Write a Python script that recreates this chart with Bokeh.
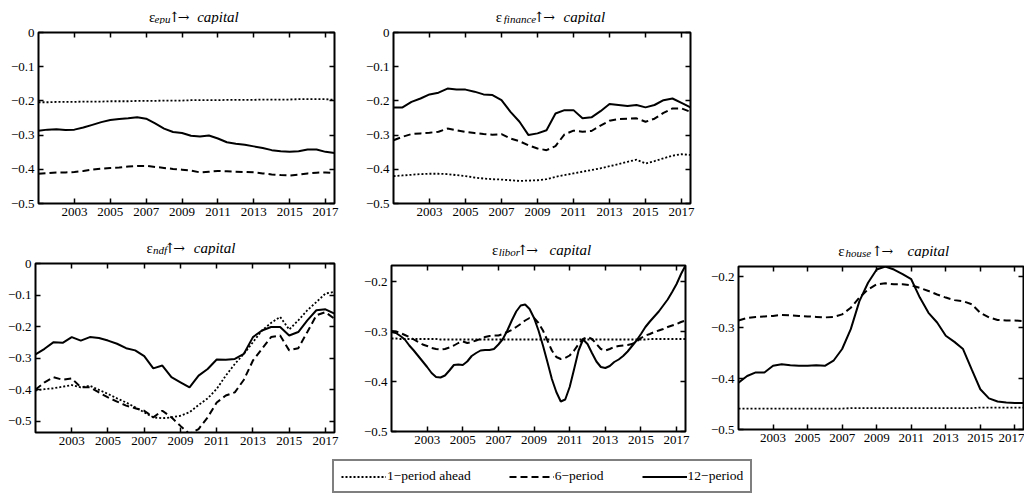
from bokeh.plotting import figure
from bokeh.layouts import row, column
from bokeh.models import (Range1d, FixedTicker, LinearAxis, Label, Legend,
                          LegendItem, CustomJSTickFormatter)
from bokeh.embed import file_html
from bokeh.resources import INLINE

FONT = "Liberation Serif"
ARROW_FONT = "DejaVu Serif"

# ---------------- data ----------------
years_h = [2001.0, 2001.5, 2002.0, 2002.5, 2003.0, 2003.5, 2004.0, 2004.5,
           2005.0, 2005.5, 2006.0, 2006.5, 2007.0, 2007.5, 2008.0, 2008.5,
           2009.0, 2009.5, 2010.0, 2010.5, 2011.0, 2011.5, 2012.0, 2012.5,
           2013.0, 2013.5, 2014.0, 2014.5, 2015.0, 2015.5, 2016.0, 2016.5,
           2017.0, 2017.5]

years_q = [2001.0, 2001.25, 2001.5, 2001.75, 2002.0, 2002.25, 2002.5, 2002.75,
           2003.0, 2003.25, 2003.5, 2003.75, 2004.0, 2004.25, 2004.5, 2004.75,
           2005.0, 2005.25, 2005.5, 2005.75, 2006.0, 2006.25, 2006.5, 2006.75,
           2007.0, 2007.25, 2007.5, 2007.75, 2008.0, 2008.25, 2008.5, 2008.75,
           2009.0, 2009.25, 2009.5, 2009.75, 2010.0, 2010.25, 2010.5, 2010.75,
           2011.0, 2011.25, 2011.5, 2011.75, 2012.0, 2012.25, 2012.5, 2012.75,
           2013.0, 2013.25, 2013.5, 2013.75, 2014.0, 2014.25, 2014.5, 2014.75,
           2015.0, 2015.25, 2015.5, 2015.75, 2016.0, 2016.25, 2016.5, 2016.75,
           2017.0, 2017.25, 2017.5]

x_ticks = [2003, 2005, 2007, 2009, 2011, 2013, 2015, 2017]
y_ticks_full = [0, -0.1, -0.2, -0.3, -0.4, -0.5]
y_ticks_short = [-0.2, -0.3, -0.4, -0.5]

legend_labels = ["1\u2212period ahead", "6\u2212period", "12\u2212period"]

# epu shock
epu_1 = [-0.204, -0.204, -0.203, -0.203, -0.203, -0.202, -0.202, -0.202,
         -0.201, -0.201, -0.201, -0.200, -0.200, -0.200, -0.199, -0.199,
         -0.199, -0.198, -0.198, -0.198, -0.198, -0.197, -0.197, -0.197,
         -0.197, -0.196, -0.196, -0.196, -0.196, -0.195, -0.195, -0.195,
         -0.195, -0.197]
epu_6 = [-0.413, -0.411, -0.409, -0.409, -0.408, -0.405, -0.401, -0.398,
         -0.396, -0.395, -0.392, -0.390, -0.390, -0.393, -0.396, -0.399,
         -0.401, -0.404, -0.409, -0.407, -0.405, -0.406, -0.407, -0.408,
         -0.409, -0.412, -0.415, -0.417, -0.418, -0.416, -0.412, -0.410,
         -0.409, -0.411]
epu_12 = [-0.287, -0.284, -0.283, -0.285, -0.284, -0.278, -0.270, -0.262,
          -0.256, -0.253, -0.251, -0.248, -0.252, -0.266, -0.281, -0.291,
          -0.294, -0.302, -0.304, -0.301, -0.310, -0.321, -0.325, -0.328,
          -0.333, -0.338, -0.344, -0.347, -0.349, -0.347, -0.342, -0.342,
          -0.349, -0.352]

# finance shock
fin_1 = [-0.420, -0.418, -0.416, -0.414, -0.413, -0.413, -0.414, -0.417,
         -0.420, -0.424, -0.427, -0.429, -0.430, -0.432, -0.434, -0.433,
         -0.432, -0.429, -0.422, -0.417, -0.412, -0.407, -0.402, -0.397,
         -0.391, -0.385, -0.378, -0.372, -0.383, -0.376, -0.368, -0.360,
         -0.356, -0.358]
fin_6 = [-0.315, -0.305, -0.297, -0.295, -0.293, -0.290, -0.281, -0.286,
         -0.291, -0.294, -0.297, -0.299, -0.297, -0.310, -0.318, -0.330,
         -0.339, -0.344, -0.332, -0.298, -0.287, -0.290, -0.288, -0.272,
         -0.258, -0.253, -0.252, -0.251, -0.261, -0.252, -0.235, -0.222,
         -0.222, -0.232]
fin_12 = [-0.219, -0.219, -0.203, -0.193, -0.181, -0.176, -0.164, -0.167,
          -0.167, -0.173, -0.181, -0.183, -0.198, -0.232, -0.261, -0.300,
          -0.295, -0.286, -0.237, -0.227, -0.227, -0.251, -0.248, -0.230,
          -0.209, -0.212, -0.215, -0.212, -0.219, -0.212, -0.198, -0.193,
          -0.206, -0.219]

# ndf shock
ndf_1 = [-0.402, -0.398, -0.395, -0.390, -0.385, -0.392, -0.387, -0.400,
         -0.413, -0.427, -0.440, -0.455, -0.471, -0.487, -0.490, -0.487,
         -0.482, -0.471, -0.448, -0.427, -0.397, -0.355, -0.318, -0.286,
         -0.249, -0.212, -0.188, -0.169, -0.209, -0.180, -0.148, -0.122,
         -0.095, -0.090]
ndf_6 = [-0.399, -0.376, -0.360, -0.368, -0.364, -0.392, -0.392, -0.408,
         -0.424, -0.437, -0.450, -0.458, -0.466, -0.487, -0.466, -0.487,
         -0.514, -0.540, -0.524, -0.487, -0.440, -0.418, -0.408, -0.368,
         -0.307, -0.270, -0.233, -0.228, -0.275, -0.268, -0.217, -0.164,
         -0.154, -0.175]
ndf_12 = [-0.288, -0.270, -0.249, -0.251, -0.233, -0.244, -0.233, -0.236,
          -0.244, -0.254, -0.268, -0.275, -0.293, -0.332, -0.323, -0.360,
          -0.376, -0.392, -0.355, -0.334, -0.304, -0.305, -0.302, -0.286,
          -0.233, -0.212, -0.201, -0.201, -0.228, -0.217, -0.180, -0.148,
          -0.145, -0.159]

# libor shock (quarterly)
lib_1 = [-0.314, -0.314, -0.315, -0.315, -0.315, -0.315, -0.315, -0.315,
         -0.315, -0.315, -0.315, -0.316, -0.316, -0.316, -0.316, -0.316,
         -0.316, -0.316, -0.316, -0.316, -0.316, -0.316, -0.316, -0.316,
         -0.316, -0.316, -0.316, -0.316, -0.316, -0.316, -0.316, -0.316,
         -0.316, -0.316, -0.316, -0.316, -0.316, -0.316, -0.316, -0.316,
         -0.316, -0.316, -0.316, -0.316, -0.316, -0.316, -0.316, -0.316,
         -0.316, -0.316, -0.316, -0.316, -0.316, -0.316, -0.316, -0.316,
         -0.316, -0.316, -0.315, -0.315, -0.315, -0.315, -0.315, -0.315,
         -0.315, -0.315, -0.315]
lib_6 = [-0.299, -0.300, -0.303, -0.307, -0.311, -0.316, -0.321, -0.326,
         -0.329, -0.333, -0.335, -0.336, -0.335, -0.332, -0.328, -0.323,
         -0.320, -0.323, -0.321, -0.318, -0.315, -0.311, -0.309, -0.308,
         -0.308, -0.305, -0.301, -0.297, -0.291, -0.285, -0.278, -0.273,
         -0.273, -0.283, -0.298, -0.318, -0.338, -0.351, -0.355, -0.353,
         -0.348, -0.338, -0.325, -0.315, -0.311, -0.315, -0.325, -0.335,
         -0.338, -0.335, -0.331, -0.329, -0.328, -0.327, -0.325, -0.320,
         -0.313, -0.308, -0.305, -0.301, -0.298, -0.295, -0.291, -0.288,
         -0.285, -0.281, -0.278]
lib_12 = [-0.301, -0.303, -0.309, -0.316, -0.328, -0.338, -0.349, -0.360,
          -0.371, -0.383, -0.391, -0.392, -0.388, -0.378, -0.367, -0.366,
          -0.367, -0.360, -0.349, -0.343, -0.338, -0.337, -0.337, -0.335,
          -0.326, -0.315, -0.298, -0.278, -0.260, -0.248, -0.246, -0.255,
          -0.273, -0.298, -0.328, -0.361, -0.395, -0.421, -0.440, -0.436,
          -0.411, -0.375, -0.338, -0.316, -0.325, -0.343, -0.360, -0.371,
          -0.373, -0.369, -0.361, -0.356, -0.349, -0.340, -0.329, -0.318,
          -0.305, -0.291, -0.280, -0.270, -0.260, -0.248, -0.236, -0.221,
          -0.205, -0.185, -0.168]

# house shock
hou_1 = [-0.459, -0.459, -0.459, -0.459, -0.459, -0.459, -0.459, -0.459,
         -0.459, -0.459, -0.459, -0.459, -0.459, -0.458, -0.458, -0.458,
         -0.458, -0.458, -0.458, -0.458, -0.458, -0.458, -0.458, -0.458,
         -0.458, -0.458, -0.458, -0.458, -0.457, -0.457, -0.457, -0.457,
         -0.457, -0.457]
hou_6 = [-0.286, -0.281, -0.279, -0.278, -0.277, -0.275, -0.276, -0.277,
         -0.278, -0.279, -0.280, -0.279, -0.274, -0.261, -0.241, -0.225,
         -0.215, -0.213, -0.215, -0.215, -0.217, -0.222, -0.228, -0.235,
         -0.241, -0.246, -0.248, -0.254, -0.271, -0.280, -0.285, -0.286,
         -0.286, -0.287]
hou_12 = [-0.408, -0.395, -0.388, -0.388, -0.375, -0.372, -0.374, -0.375,
          -0.375, -0.374, -0.375, -0.365, -0.342, -0.303, -0.248, -0.212,
          -0.186, -0.180, -0.186, -0.195, -0.205, -0.241, -0.271, -0.290,
          -0.316, -0.328, -0.342, -0.382, -0.421, -0.439, -0.445, -0.447,
          -0.448, -0.448]

# ---------------- styles ----------------
DOT = dict(line_color="black", line_width=1.8, line_dash="2 2")
DASH = dict(line_color="black", line_width=2, line_dash="7 4")
SOLID = dict(line_color="black", line_width=2)

Y_FMT = ("if (Math.abs(tick) < 1e-9) { return '0'; }"
         " return tick.toFixed(1).replace('-', '\u2212');")


def style_axis(ax, size="13px"):
    ax.axis_line_color = None
    ax.major_tick_in = 5
    ax.major_tick_out = 0
    ax.major_tick_line_width = 1.5
    ax.minor_tick_line_color = None
    ax.major_label_text_font = FONT
    ax.major_label_text_font_size = size
    ax.major_label_text_color = "black"
    ax.major_label_standoff = 4


def make_title(width, height, xc, sub, offs):
    t = figure(width=width, height=height, title=None,
               x_range=Range1d(0, width), y_range=Range1d(0, height),
               toolbar_location=None, output_backend="svg",
               x_axis_location=None, y_axis_location=None,
               min_border_left=0, min_border_right=0,
               min_border_top=0, min_border_bottom=0)
    t.outline_line_color = None
    t.grid.visible = False
    e_off, s_off, a_off, c_off = offs
    parts = [
        ("\u03b5", FONT, "15px", "normal", "left", e_off, 8),
        (sub, FONT, "11px", "italic", "left", s_off, 6),
        ("\u2191", ARROW_FONT, "14px", "normal", "center", a_off + 4.5, 8),
        ("\u2192", ARROW_FONT, "14px", "normal", "center", a_off + 15.5, 8),
        ("capital", FONT, "15px", "italic", "left", c_off, 8),
    ]
    for txt, fnt, size, st, al, xo, yy in parts:
        t.add_layout(Label(x=xc + xo, y=yy, x_units="data", y_units="data",
                           text=txt, text_font=fnt, text_font_size=size,
                           text_font_style=st, text_color="black",
                           text_align=al, text_baseline="alphabetic"))
    return t


def make_panel(width, title_h, frame_h, mbl, mbr, mbb, y0, y1, yticks, xs,
               s1, s6, s12, sub, offs):
    mbt = 8
    p = figure(width=width, height=mbt + frame_h + mbb, title=None,
               x_range=Range1d(2001, 2017.5), y_range=Range1d(y0, y1),
               toolbar_location=None, output_backend="svg",
               min_border_left=mbl, min_border_right=mbr,
               min_border_top=mbt, min_border_bottom=mbb)
    p.outline_line_color = "black"
    p.outline_line_width = 2
    p.grid.visible = False

    p.xaxis.ticker = FixedTicker(ticks=x_ticks)
    p.yaxis.ticker = FixedTicker(ticks=yticks)
    p.yaxis.formatter = CustomJSTickFormatter(code=Y_FMT)
    for ax in p.xaxis + p.yaxis:
        style_axis(ax)

    top = LinearAxis(ticker=FixedTicker(ticks=x_ticks),
                     formatter=CustomJSTickFormatter(code="return '';"))
    right = LinearAxis(ticker=FixedTicker(ticks=yticks),
                       formatter=CustomJSTickFormatter(code="return '';"))
    for ax in (top, right):
        style_axis(ax, size="0px")
        ax.major_label_standoff = 0
    p.add_layout(top, "above")
    p.add_layout(right, "right")

    p.line(xs, s1, **DOT)
    p.line(xs, s6, **DASH)
    p.line(xs, s12, **SOLID)

    frame_w = width - mbl - mbr
    t = make_title(width, title_h, mbl + frame_w / 2.0, sub, offs)
    return column(t, p)


c1 = make_panel(362, 24, 171, 38, 28, 29, -0.5, 0, y_ticks_full, years_h,
                epu_1, epu_6, epu_12, "epu", (-51, -44, -24, 8))
c2 = make_panel(338, 24, 171, 27, 10, 29, -0.5, 0, y_ticks_full, years_h,
                fin_1, fin_6, fin_12, "finance", (-61, -52, -16, 16))
c3 = make_panel(360, 23, 169, 35, 26, 20, -0.535, 0, y_ticks_full, years_h,
                ndf_1, ndf_6, ndf_12, "ndf", (-51, -43, -27, 6))
c4 = make_panel(347, 25, 166, 28, 22, 21, -0.5, -0.168, y_ticks_short,
                years_q, lib_1, lib_6, lib_12, "libor", (-58, -50, -26, 10))
c5 = make_panel(317, 26, 163, 28, 1, 23, -0.5, -0.18, y_ticks_short, years_h,
                hou_1, hou_6, hou_12, "house", (-61, -53, -22, 16))

# legend strip (key lines use the epu series, which lie outside this strip's ranges)
lf = figure(width=1024, height=42, title=None, x_range=Range1d(0, 1),
            y_range=Range1d(0, 1), toolbar_location=None,
            output_backend="svg", x_axis_location=None, y_axis_location=None,
            min_border_left=0, min_border_right=0, min_border_top=0,
            min_border_bottom=0)
lf.outline_line_color = None
lf.grid.visible = False
r1 = lf.line(years_h, epu_1, **DOT)
r6 = lf.line(years_h, epu_6, **DASH)
r12 = lf.line(years_h, epu_12, **SOLID)
leg = Legend(items=[LegendItem(label=legend_labels[0], renderers=[r1]),
                    LegendItem(label=legend_labels[1], renderers=[r6]),
                    LegendItem(label=legend_labels[2], renderers=[r12])],
             orientation="horizontal", location=(332, 1))
leg.label_text_font = FONT
leg.label_text_font_size = "13.5px"
leg.label_text_color = "black"
leg.border_line_color = "black"
leg.border_line_width = 2
leg.glyph_width = 45
leg.glyph_height = 13
leg.label_height = 13
leg.label_standoff = 1
leg.spacing = 38
leg.padding = 7
leg.margin = 0
leg.background_fill_color = "white"
leg.background_fill_alpha = 1
lf.add_layout(leg)

layout = column(row(c1, c2), row(c3, c4, c5), lf)

open("out.html", "w").write(file_html(layout, INLINE))
